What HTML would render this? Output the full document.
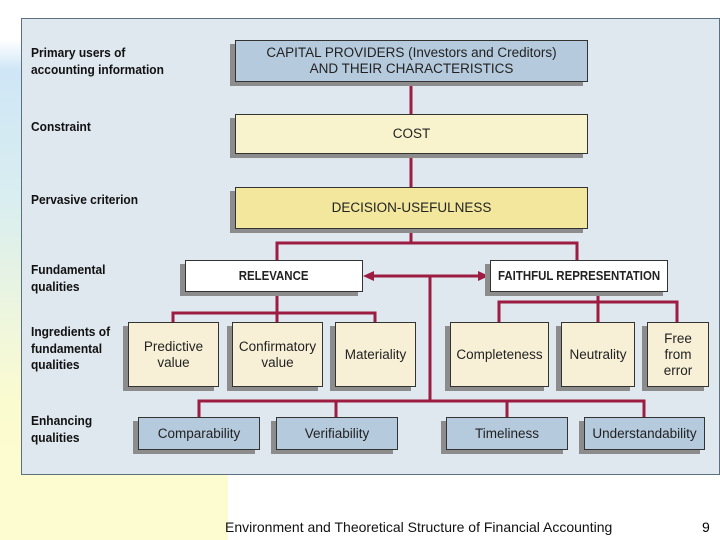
<!DOCTYPE html>
<html><head><style>
body{margin:0;width:720px;height:540px;position:relative;overflow:hidden;background:#fff;font-family:"Liberation Sans",sans-serif}
#bg{position:absolute;left:0;top:0;width:228px;height:540px;background:linear-gradient(#fff 0,#fff 40px,#cfe6f6 70px,#d9eef0 200px,#fbfbd0 400px,#fdfcd0 540px);}
#panel{position:absolute;left:21px;top:18px;width:697px;height:455px;background:#dfe7ef;border:1px solid #5c7080}
.b{position:absolute;box-sizing:border-box;border:1.5px solid #333;box-shadow:-5px 4px 0 #8c8c8c;display:flex;align-items:center;justify-content:center;text-align:center;font-size:13.5px;color:#222;line-height:16px;white-space:nowrap}
.blue{background:#b5cadd}.cream{background:#f7f0d6}
.lab{position:absolute;left:31px;font-weight:bold;font-size:13px;line-height:16.5px;color:#111;transform:scaleX(.92);transform-origin:left;white-space:nowrap}
.bold{font-weight:bold;background:#fff;font-size:13px}
.bold span{display:inline-block;transform:scaleX(.88)}
#foot{position:absolute;left:225px;top:519px;font-size:14px;color:#111}
#pg{position:absolute;left:702px;top:519px;font-size:14px}
</style></head><body>
<div id="bg"></div>
<div id="panel"></div>
<svg style="position:absolute;left:0;top:0" width="720" height="540">
<g stroke="#9c1c42" stroke-width="3" fill="none">
<line x1="411" y1="82" x2="411" y2="243"/>
<polyline points="277,260 277,243 577,243 577,260"/>
<line x1="372" y1="276" x2="480" y2="276"/>
<line x1="430" y1="276" x2="430" y2="401"/>
<polyline points="173,322 173,313 375,313 375,322"/>
<line x1="277" y1="291" x2="277" y2="322"/>
<polyline points="499,322 499,302 677,302 677,322"/>
<line x1="598" y1="291" x2="598" y2="322"/>
<polyline points="199,417 199,401 644,401 644,417"/>
<line x1="336" y1="401" x2="336" y2="417"/>
<line x1="507" y1="401" x2="507" y2="417"/>
</g>
<polygon points="363,276 374,271 374,281" fill="#9c1c42"/>
<polygon points="489,276 478,271 478,281" fill="#9c1c42"/>
</svg>
<div class="lab" style="top:45px">Primary users of<br>accounting information</div>
<div class="lab" style="top:119px">Constraint</div>
<div class="lab" style="top:192px">Pervasive criterion</div>
<div class="lab" style="top:262px">Fundamental<br>qualities</div>
<div class="lab" style="top:324px">Ingredients of<br>fundamental<br>qualities</div>
<div class="lab" style="top:413px">Enhancing<br>qualities</div>

<div class="b blue" style="left:235px;top:40px;width:353px;height:42px">CAPITAL PROVIDERS (Investors and Creditors)<br>AND THEIR CHARACTERISTICS</div>
<div class="b" style="left:235px;top:114px;width:353px;height:40px;background:#f9f3cd">COST</div>
<div class="b" style="left:235px;top:187px;width:353px;height:42px;background:#f2e79d">DECISION-USEFULNESS</div>
<div class="b bold" style="left:185px;top:260px;width:178px;height:32px"><span>RELEVANCE</span></div>
<div class="b bold" style="left:490px;top:260px;width:178px;height:32px"><span>FAITHFUL REPRESENTATION</span></div>

<div class="b cream" style="left:128px;top:322px;width:91px;height:65px">Predictive<br>value</div>
<div class="b cream" style="left:232px;top:322px;width:91px;height:65px">Confirmatory<br>value</div>
<div class="b cream" style="left:335px;top:322px;width:81px;height:65px">Materiality</div>
<div class="b cream" style="left:450px;top:322px;width:99px;height:65px">Completeness</div>
<div class="b cream" style="left:561px;top:322px;width:74px;height:65px">Neutrality</div>
<div class="b cream" style="left:647px;top:322px;width:62px;height:65px">Free<br>from<br>error</div>

<div class="b blue" style="left:138px;top:417px;width:122px;height:33px">Comparability</div>
<div class="b blue" style="left:276px;top:417px;width:122px;height:33px">Verifiability</div>
<div class="b blue" style="left:446px;top:417px;width:122px;height:33px">Timeliness</div>
<div class="b blue" style="left:584px;top:417px;width:121px;height:33px">Understandability</div>

<div id="foot">Environment and Theoretical Structure of Financial Accounting</div>
<div id="pg">9</div>
</body></html>
